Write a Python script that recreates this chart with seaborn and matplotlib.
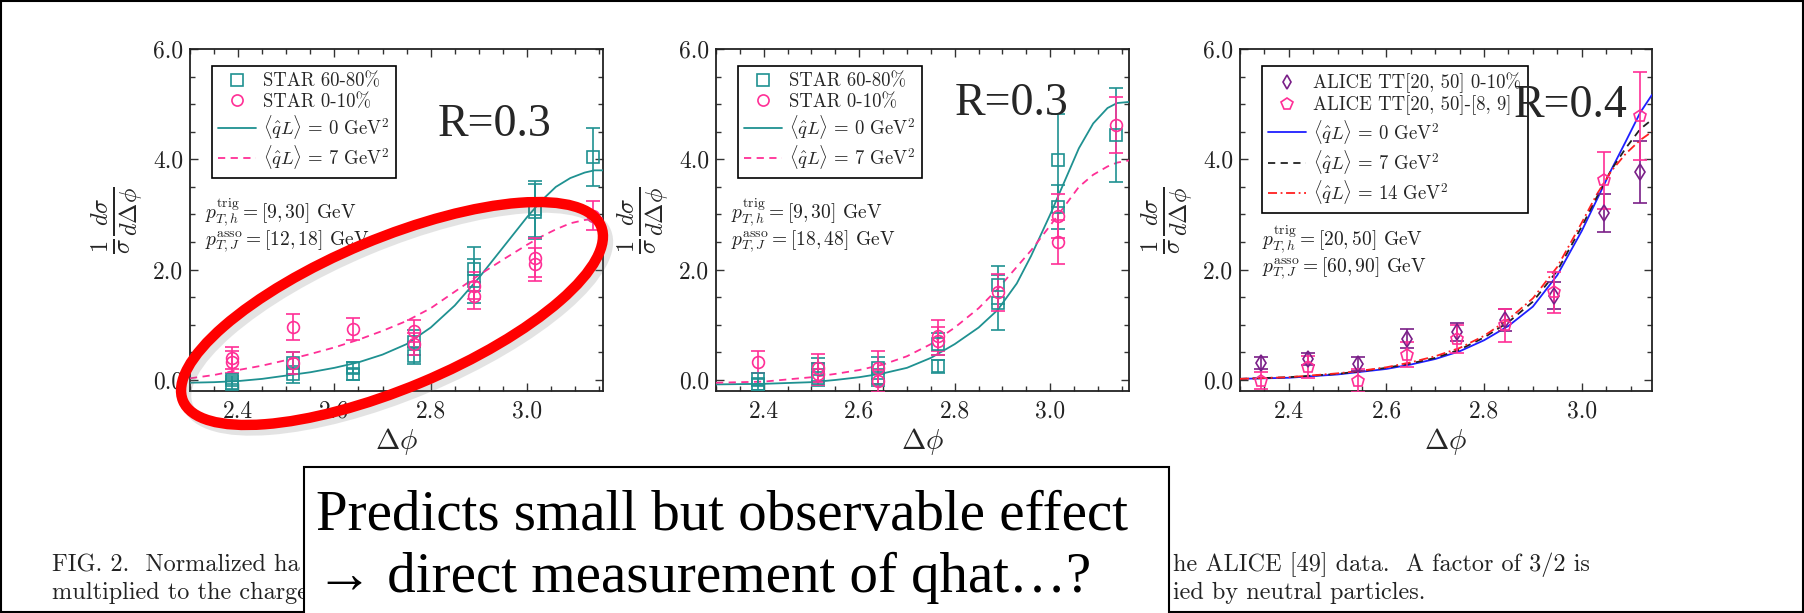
import numpy as np
import matplotlib
matplotlib.use("Agg")
import matplotlib.pyplot as plt
import seaborn as sns
from matplotlib.lines import Line2D
from matplotlib.patches import Ellipse, Rectangle
from matplotlib.ticker import MultipleLocator, FormatStrFormatter

nan = np.nan

# ---- panel 1: STAR, R=0.3, pT,J asso [12,18]
star_x = [2.388, 2.513, 2.639, 2.765, 2.890, 3.016, 3.138]
p1_star6080_a = [0.00, 0.31, 0.22, 0.68, 2.01, 3.10, 4.04]
p1_star6080_a_err = [0.08, 0.20, 0.10, 0.22, 0.40, 0.50, 0.52]
p1_star6080_b = [-0.08, 0.10, 0.10, 0.44, 1.80, 3.05, nan]
p1_star6080_b_err = [0.08, 0.15, 0.10, 0.15, 0.40, 0.50, nan]
p1_star010_a = [0.40, 0.96, 0.92, 0.88, 1.71, 2.22, 2.98]
p1_star010_a_err = [0.20, 0.24, 0.20, 0.20, 0.25, 0.35, 0.27]
p1_star010_b = [0.32, 0.30, nan, 0.65, 1.53, 2.10, nan]
p1_star010_b_err = [0.20, 0.20, nan, 0.20, 0.25, 0.30, nan]

p1_curve_x = [2.30, 2.35, 2.40, 2.45, 2.50, 2.55, 2.60, 2.65, 2.70, 2.75, 2.80,
              2.85, 2.90, 2.95, 3.00, 3.03, 3.06, 3.09, 3.12, 3.14, 3.158]
p1_q0 = [-0.05, -0.04, -0.02, 0.02, 0.08, 0.14, 0.22, 0.32, 0.46, 0.65, 0.95,
         1.35, 1.85, 2.40, 2.95, 3.25, 3.50, 3.66, 3.76, 3.80, 3.80]
p1_q7 = [0.03, 0.09, 0.18, 0.26, 0.36, 0.47, 0.59, 0.73, 0.89, 1.07, 1.30,
         1.60, 1.90, 2.18, 2.45, 2.60, 2.73, 2.84, 2.90, 2.92, 2.93]

# ---- panel 2: STAR, R=0.3, pT,J asso [18,48]
p2_star6080_a = [0.01, 0.19, 0.22, 0.65, 1.72, 3.98, 4.44]
p2_star6080_a_err = [0.12, 0.20, 0.20, 0.20, 0.35, 0.85, 0.85]
p2_star6080_b = [-0.08, 0.04, 0.04, 0.25, 1.40, 3.13, nan]
p2_star6080_b_err = [0.10, 0.15, 0.15, 0.12, 0.50, 0.40, nan]
p2_star010_a = [0.32, 0.22, 0.22, 0.80, 1.59, 2.98, 4.62]
p2_star010_a_err = [0.20, 0.25, 0.30, 0.28, 0.34, 0.40, 0.51]
p2_star010_b = [nan, 0.10, -0.02, 0.71, nan, 2.50, nan]
p2_star010_b_err = [nan, 0.20, 0.20, 0.25, nan, 0.40, nan]

p2_curve_x = [2.30, 2.40, 2.50, 2.55, 2.60, 2.65, 2.70, 2.75, 2.80, 2.85, 2.89,
              2.93, 2.96, 3.00, 3.03, 3.06, 3.09, 3.12, 3.14, 3.165]
p2_q0 = [-0.08, -0.07, -0.04, 0.00, 0.05, 0.12, 0.22, 0.40, 0.65, 0.95, 1.27,
         1.75, 2.25, 3.00, 3.60, 4.20, 4.65, 4.93, 5.02, 5.04]
p2_q7 = [-0.05, -0.03, 0.05, 0.11, 0.18, 0.28, 0.43, 0.65, 0.95, 1.30, 1.65,
         2.05, 2.35, 2.80, 3.15, 3.50, 3.72, 3.87, 3.94, 3.98]

# ---- panel 3: ALICE, R=0.4
alice_x = [2.343, 2.440, 2.542, 2.642, 2.745, 2.842, 2.943, 3.045, 3.119]
alice_010 = [0.30, 0.38, 0.29, 0.75, 0.87, 1.08, 1.53, 3.03, 3.77]
alice_010_err = [0.11, 0.10, 0.12, 0.17, 0.17, 0.20, 0.25, 0.35, 0.56]
alice_sub = [-0.01, 0.23, -0.01, 0.46, 0.74, 0.99, 1.59, 3.62, 4.79]
alice_sub_err = [0.15, 0.20, 0.20, 0.22, 0.26, 0.30, 0.37, 0.52, 0.80]

p3_curve_x = [2.30, 2.40, 2.50, 2.55, 2.60, 2.65, 2.70, 2.75, 2.80, 2.85, 2.90,
              2.95, 3.00, 3.03, 3.06, 3.09, 3.12, 3.144]
p3_q0 = [0.02, 0.04, 0.10, 0.15, 0.20, 0.28, 0.38, 0.52, 0.72, 0.98, 1.33,
         1.90, 2.70, 3.25, 3.80, 4.32, 4.85, 5.17]
p3_q7 = [0.02, 0.05, 0.11, 0.16, 0.22, 0.30, 0.40, 0.55, 0.77, 1.05, 1.42,
         1.98, 2.78, 3.30, 3.80, 4.20, 4.55, 4.72]
p3_q14 = [0.02, 0.05, 0.12, 0.17, 0.23, 0.32, 0.43, 0.58, 0.80, 1.10, 1.48,
          2.05, 2.85, 3.35, 3.78, 4.10, 4.35, 4.50]

teal = "#1f9191"
pink = "#ff2f96"
purple = "#7a1f88"

sns.set_style("ticks")
plt.rcParams["font.family"] = ["cmr10", "DejaVu Serif"]
plt.rcParams["mathtext.fontset"] = "cm"
plt.rcParams["axes.formatter.use_mathtext"] = True
plt.rcParams["axes.unicode_minus"] = False

fig = plt.figure(figsize=(18.04, 6.13), dpi=100)
fig.patch.set_facecolor("white")

W, H = 1804, 613


def add_panel(left, right):
    # pixel box -> figure fraction
    return fig.add_axes([left / W, (H - 391) / H, (right - left) / W, 342 / H])


def style(ax, xmax):
    ax.set_xlim(2.3, xmax)
    ax.set_ylim(-0.2, 6.0)
    ax.xaxis.set_major_locator(MultipleLocator(0.2))
    ax.xaxis.set_minor_locator(MultipleLocator(0.05))
    ax.yaxis.set_major_locator(MultipleLocator(2.0))
    ax.yaxis.set_minor_locator(MultipleLocator(0.5))
    ax.xaxis.set_major_formatter(FormatStrFormatter("%.1f"))
    ax.yaxis.set_major_formatter(FormatStrFormatter("%.1f"))
    ax.tick_params(which="both", direction="in", top=True, right=True,
                   color="#333333", width=1.0, labelsize=17, labelcolor="#222222")
    ax.tick_params(which="major", length=6, pad=5)
    ax.tick_params(axis="x", which="major", pad=7)
    ax.tick_params(which="minor", length=3.5)
    for s in ax.spines.values():
        s.set_linewidth(1.3)
        s.set_color("#222222")
        s.set_visible(True)
    ax.set_xlabel(r"$\Delta\phi$", fontsize=21, labelpad=2)
    ax.set_ylabel(r"$\frac{1}{\sigma}\frac{d\sigma}{d\Delta\phi}$", fontsize=25, labelpad=6)


def points(ax, x, y, err, marker, color, ms=8.5):
    ax.errorbar(x, y, yerr=err, fmt=marker, mfc="none", mec=color, mew=1.2,
                ms=ms, ecolor=color, elinewidth=1.2, capsize=5, capthick=1.2, zorder=4)


star_handles = [
    Line2D([], [], marker="s", mfc="none", mec=teal, mew=1.2, ms=8, ls="none"),
    Line2D([], [], marker="o", mfc="none", mec=pink, mew=1.2, ms=8, ls="none"),
    Line2D([], [], color=teal, lw=1.3),
    Line2D([], [], color=pink, lw=1.3, ls=(0, (4, 3))),
]
star_labels = ["STAR 60-80%", "STAR 0-10%",
               r"$\langle\hat{q}L\rangle\,=\,0\ \mathrm{GeV}^2$",
               r"$\langle\hat{q}L\rangle\,=\,7\ \mathrm{GeV}^2$"]


def legend(ax, handles, labels):
    leg = ax.legend(handles, labels, loc="upper left", bbox_to_anchor=(0.053, 0.95),
                    borderaxespad=0, frameon=True, fancybox=False, edgecolor="black",
                    framealpha=1, fontsize=13.5, handlelength=2.0, handletextpad=0.4,
                    labelspacing=0.12, borderpad=0.35)
    leg.get_frame().set_linewidth(1.2)


panels = [
    (add_panel(190, 603), 3.158, p1_star6080_a, p1_star6080_a_err, p1_star6080_b, p1_star6080_b_err,
     p1_star010_a, p1_star010_a_err, p1_star010_b, p1_star010_b_err, p1_curve_x, p1_q0, p1_q7,
     "[12,18]", (0.600, 0.778)),
    (add_panel(716, 1129), 3.165, p2_star6080_a, p2_star6080_a_err, p2_star6080_b, p2_star6080_b_err,
     p2_star010_a, p2_star010_a_err, p2_star010_b, p2_star010_b_err, p2_curve_x, p2_q0, p2_q7,
     "[18,48]", (0.579, 0.839)),
]

for (ax, xmax, ta, tae, tb, tbe, pa, pae, pb, pbe, cx, q0, q7, asso, rpos) in panels:
    sns.lineplot(x=cx, y=q0, ax=ax, color=teal, lw=1.3, zorder=3)
    sns.lineplot(x=cx, y=q7, ax=ax, color=pink, lw=1.3, zorder=3)
    ax.lines[-1].set_linestyle((0, (4, 3)))
    points(ax, star_x, ta, tae, "s", teal)
    points(ax, star_x, tb, tbe, "s", teal)
    points(ax, star_x, pa, pae, "o", pink)
    points(ax, star_x, pb, pbe, "o", pink)
    style(ax, xmax)
    legend(ax, star_handles, star_labels)
    ax.text(0.036, 0.524, r"$p_{T,h}^{\rm trig} = [9,30]$ GeV", transform=ax.transAxes,
            fontsize=14, va="center", ha="left", color="#222222")
    ax.text(0.036, 0.437, r"$p_{T,J}^{\rm asso} = " + asso + "$ GeV", transform=ax.transAxes,
            fontsize=14, va="center", ha="left", color="#222222")
    ax.text(rpos[0], rpos[1], "R=0.3", transform=ax.transAxes, fontsize=33,
            family=["Liberation Serif", "DejaVu Serif"], va="center", ha="left", zorder=6)

# ---- panel 3
ax3 = add_panel(1240, 1652)
sns.lineplot(x=p3_curve_x, y=p3_q0, ax=ax3, color="#1f1fff", lw=1.3, zorder=3)
sns.lineplot(x=p3_curve_x, y=p3_q7, ax=ax3, color="#222222", lw=1.3, zorder=3)
ax3.lines[-1].set_linestyle((0, (4, 3)))
sns.lineplot(x=p3_curve_x, y=p3_q14, ax=ax3, color="#ff2020", lw=1.3, zorder=3)
ax3.lines[-1].set_linestyle((0, (5, 2, 1, 2)))
points(ax3, alice_x, alice_010, alice_010_err, "d", purple, ms=8)
points(ax3, alice_x, alice_sub, alice_sub_err, "p", pink, ms=9)
style(ax3, 3.144)
alice_handles = [
    Line2D([], [], marker="d", mfc="none", mec=purple, mew=1.2, ms=7.5, ls="none"),
    Line2D([], [], marker="p", mfc="none", mec=pink, mew=1.2, ms=8.5, ls="none"),
    Line2D([], [], color="#1f1fff", lw=1.3),
    Line2D([], [], color="#222222", lw=1.3, ls=(0, (4, 3))),
    Line2D([], [], color="#ff2020", lw=1.3, ls=(0, (5, 2, 1, 2))),
]
alice_labels = ["ALICE TT[20, 50] 0-10%", "ALICE TT[20, 50]-[8, 9]",
                r"$\langle\hat{q}L\rangle\,=\,0\ \mathrm{GeV}^2$",
                r"$\langle\hat{q}L\rangle\,=\,7\ \mathrm{GeV}^2$",
                r"$\langle\hat{q}L\rangle\,=\,14\ \mathrm{GeV}^2$"]
legend(ax3, alice_handles, alice_labels)
ax3.text(0.054, 0.444, r"$p_{T,h}^{\rm trig} = [20,50]$ GeV", transform=ax3.transAxes,
         fontsize=14, va="center", ha="left", color="#222222")
ax3.text(0.054, 0.357, r"$p_{T,J}^{\rm asso} = [60,90]$ GeV", transform=ax3.transAxes,
         fontsize=14, va="center", ha="left", color="#222222")
ax3.text(0.664, 0.833, "R=0.4", transform=ax3.transAxes, fontsize=33,
         family=["Liberation Serif", "DejaVu Serif"], va="center", ha="left", zorder=6)

# ---- overlay in pixel coordinates: ellipse, caption, text box, border
ov = fig.add_axes([0, 0, 1, 1], zorder=10)
ov.set_xlim(0, W)
ov.set_ylim(H, 0)
ov.axis("off")
ov.patch.set_alpha(0)

ov.add_patch(Ellipse((397, 319), 453, 150, angle=-22.7, fill=False,
                     edgecolor="#777777", lw=7.5, alpha=0.2))
ov.add_patch(Ellipse((392, 313.5), 453, 150, angle=-22.7, fill=False,
                     edgecolor="#ff0000", lw=7.5))

cap_kw = dict(fontsize=17.5, va="center", ha="left", color="#222222")
ov.text(52, 565, "FIG. 2.  Normalized ha", **cap_kw)
ov.text(52, 593, "multiplied to the charge", **cap_kw)
ov.text(1173, 565, "he ALICE [49] data.  A factor of 3/2 is", **cap_kw)
ov.text(1173, 593, "ied by neutral particles.", **cap_kw)

ov.add_patch(Rectangle((304, 467), 865, 160, facecolor="white", edgecolor="black",
                       lw=1.5, zorder=3, clip_on=False))
box_kw = dict(fontsize=41, va="center", ha="left", color="black", zorder=4,
              family=["Liberation Serif", "DejaVu Serif"])
ov.text(316, 516, "Predicts small but observable effect", **box_kw)
ov.text(316, 578, "\u2192 direct measurement of qhat\u2026?", **box_kw)

ov.add_patch(Rectangle((1, 1), W - 2, H - 2, fill=False, edgecolor="black",
                       lw=1.5, clip_on=False))

fig.savefig("out.png", dpi=100)
